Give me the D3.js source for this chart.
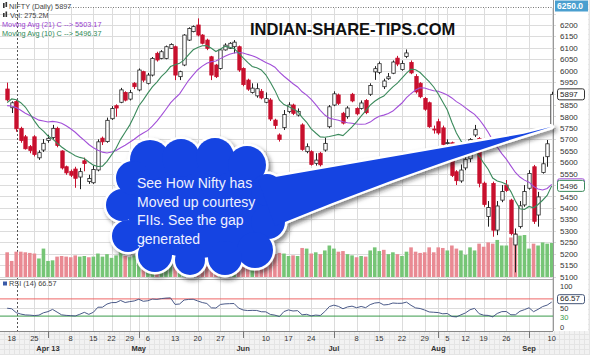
<!DOCTYPE html>
<html><head><meta charset="utf-8">
<script src="https://cdn.jsdelivr.net/npm/d3@7"></script>
<style>
html,body{margin:0;padding:0;background:#f1f1f1;}
svg{display:block;font-family:"Liberation Sans",Arial,sans-serif;}
</style></head><body>
<svg id="chart" width="590" height="355"></svg>
<script>
// ---------------- DATA ----------------
const dates = [
"2013-03-15","2013-03-18","2013-03-19","2013-03-20","2013-03-21","2013-03-22","2013-03-25","2013-03-26","2013-03-28",
"2013-04-01","2013-04-02","2013-04-03","2013-04-04","2013-04-05","2013-04-08","2013-04-09","2013-04-10","2013-04-11","2013-04-12","2013-04-15","2013-04-16","2013-04-17","2013-04-18","2013-04-22","2013-04-23","2013-04-25","2013-04-26","2013-04-29","2013-04-30",
"2013-05-02","2013-05-03","2013-05-06","2013-05-07","2013-05-08","2013-05-09","2013-05-10","2013-05-11","2013-05-13","2013-05-14","2013-05-15","2013-05-16","2013-05-17","2013-05-20","2013-05-21","2013-05-22","2013-05-23","2013-05-24","2013-05-27","2013-05-28","2013-05-29","2013-05-30","2013-05-31",
"2013-06-03","2013-06-04","2013-06-05","2013-06-06","2013-06-07","2013-06-10","2013-06-11","2013-06-12","2013-06-13","2013-06-14","2013-06-17","2013-06-18","2013-06-19","2013-06-20","2013-06-21","2013-06-24","2013-06-25","2013-06-26","2013-06-27","2013-06-28",
"2013-07-01","2013-07-02","2013-07-03","2013-07-04","2013-07-05","2013-07-08","2013-07-09","2013-07-10","2013-07-11","2013-07-12","2013-07-15","2013-07-16","2013-07-17","2013-07-18","2013-07-19","2013-07-22","2013-07-23","2013-07-24","2013-07-25","2013-07-26","2013-07-29","2013-07-30","2013-07-31",
"2013-08-01","2013-08-02","2013-08-05","2013-08-06","2013-08-07","2013-08-08","2013-08-12","2013-08-13","2013-08-14","2013-08-16","2013-08-19","2013-08-20","2013-08-21","2013-08-22","2013-08-23","2013-08-26","2013-08-27","2013-08-28","2013-08-29","2013-08-30",
"2013-09-02","2013-09-03","2013-09-04","2013-09-05","2013-09-06","2013-09-10"];

const open = [
5920,5838,5865,5748,5711,5668,5711,5619,5653,
5695,5708,5748,5649,5580,5560,5570,5535,5606,5515,5510,5566,5705,5690,5790,5847,5862,5905,5876,5945,
5916,5996,5945,5981,6076,6054,6054,6098,6105,5974,6025,6134,6171,6200,6156,6134,6061,6025,6010,6091,6098,6105,6105,
6010,5959,5905,5890,5910,5862,5872,5784,5719,5751,5821,5850,5806,5763,5646,5646,5595,5639,5653,5755,
5850,5894,5814,5799,5897,5835,5835,5870,5897,5995,5993,5930,5965,5989,6055,6005,6062,6036,5975,5945,5879,5860,5745,
5777,5750,5683,5685,5558,5518,5575,5615,5719,5704,5508,5362,5507,5303,5434,5500,5434,5238,5318,5413,
5486,5580,5369,5555,5624,5755];

const high = [
5948,5866,5872,5755,5719,5675,5718,5652,5701,
5720,5763,5755,5652,5585,5568,5580,5575,5620,5545,5585,5700,5712,5795,5845,5853,5925,5910,5916,5950,
6010,6000,5990,6060,6083,6090,6110,6120,6110,6000,6160,6190,6198,6229,6160,6140,6065,6030,6095,6120,6125,6134,6110,
6015,5965,5945,5945,5920,5905,5880,5790,5726,5828,5862,5856,5835,5770,5682,5652,5639,5645,5707,5850,
5910,5900,5820,5845,5903,5840,5870,5876,5945,6020,6040,5965,5990,6045,6065,6045,6093,6045,5985,5950,5885,5865,5760,
5790,5760,5700,5690,5565,5590,5625,5705,5763,5710,5515,5430,5515,5430,5500,5522,5440,5310,5430,5500,
5565,5588,5470,5624,5697,5908];

const low = [
5866,5815,5733,5685,5655,5639,5625,5610,5645,
5685,5700,5665,5568,5545,5535,5488,5482,5560,5505,5505,5560,5675,5685,5785,5799,5858,5866,5870,5920,
5910,5950,5940,5975,6040,6050,6050,6095,5959,5959,6020,6130,6168,6150,6115,6090,5959,5968,6005,6088,6095,6076,5995,
5932,5912,5900,5882,5875,5858,5780,5745,5690,5741,5814,5806,5800,5650,5639,5585,5585,5580,5646,5748,
5845,5850,5765,5790,5862,5805,5830,5810,5890,5960,5985,5920,5960,5985,6020,6000,6055,5985,5900,5880,5825,5750,5725,
5720,5670,5670,5535,5500,5510,5565,5600,5710,5490,5405,5318,5274,5281,5425,5470,5280,5118,5310,5405,
5480,5330,5318,5550,5580,5750];

const close = [
5872.6,5859.7,5745.95,5694.4,5658.75,5651.35,5633.85,5641.6,5682.55,
5704.4,5748.1,5672.9,5574.75,5553.25,5542.95,5529.55,5558.7,5594,5528.55,5568.4,5688.95,5689.1,5783.1,5834.4,5836.9,5916.25,5871.45,5904.1,5930.2,
6003,5959,5981,6054,6047,6083,6105,6115,5981,5996,6156,6185,6193,6156,6120,6098,5981,5974,6091,6112,6120,6125,6003,
5939.3,5919.45,5923.85,5921.4,5881,5878,5788.8,5760.2,5699.1,5808.4,5850.05,5813.6,5822.25,5655.9,5667.65,5590.25,5609.1,5588.7,5682.35,5842.2,
5898.85,5857.55,5770.9,5836.95,5867.9,5811.55,5859,5816.7,5935.1,6009,6030.8,5955.25,5973.3,6038.05,6029.2,6031.8,6077.8,5990.5,5907.5,5886.2,5831.65,5755.05,5742,
5727.85,5677.9,5685.4,5542.25,5519.1,5565.65,5612.4,5699.3,5742.3,5507.85,5414.75,5401.45,5302.55,5408.45,5471.8,5476.5,5287.45,5285,5409.05,5471.75,
5550.75,5341.45,5448.1,5592.95,5680.4,5896.75];

// volume, millions
const volume = [
200,130,205,205,200,195,190,150,230,
130,135,165,170,165,160,175,165,170,160,165,190,165,185,155,175,215,170,160,175,
200,195,150,190,180,175,200,120,220,200,230,190,185,210,185,175,235,170,185,175,170,190,260,
190,170,180,165,175,150,195,185,195,190,170,175,170,235,230,190,200,185,215,255,
230,205,210,185,175,160,170,165,215,240,210,220,185,200,185,170,205,240,205,195,200,240,200,
240,235,215,255,230,215,180,240,215,270,245,280,270,300,255,255,320,355,335,340,
230,270,255,280,270,275.2];

// estimated closes before the visible window (needed so the MA / RSI lines start where they do)
const warmupCloses = [5998.9,5987.25,5956.9,5959.2,5938.8,5903.5,5897.85,5887.4,5932.95,5896.8,5887.4,5898.2,5939.7,5932.95,5852.25,5850.3,5855.75,5761.35,5796.9,5693.05,5719.7,5698.5,5784.25,5818.6,5851.2,5945.7,5942.35,5914.1,5863.3,5913.85];

const priceTicks = [5100,5150,5200,5250,5300,5350,5400,5450,5500,5550,5600,5650,5700,5750,5800,5850,5900,5950,6000,6050,6100,6150,6200,6250];
const hiddenPriceLabels = [5500,5900,6250];   // covered by value boxes in the original
const rsiTicks = [0,30,50,100];
const dayTicks = ["2013-03-18","2013-03-25","2013-04-08","2013-04-15","2013-04-22","2013-04-29","2013-05-06","2013-05-13","2013-05-20","2013-05-27","2013-06-10","2013-06-17","2013-06-24","2013-07-08","2013-07-15","2013-07-22","2013-07-29","2013-08-05","2013-08-12","2013-08-19","2013-08-26","2013-09-10"];
const dayTickLabels = ["18","25","8","15","22","29","6","13","20","27","10","17","24","8","15","22","29","5","12","19","26","10"];
const monthTicks = ["2013-04-01","2013-05-02","2013-06-03","2013-07-01","2013-08-01","2013-09-02"];
const monthTickLabels = ["Apr 13","May","Jun","Jul","Aug","Sep"];
const markerDate = "2013-03-19";

const legendLines = ["NIFTY (Daily) 5897","Vol: 275.2M","Moving Avg (21) C --> 5503.17","Moving Avg (10) C --> 5496.37"];
const rsiLegend = "RSI (14) 66.57";
const rsiLast = 66.57;
const calloutLines = ["See How Nifty has","Moved up courtesy","FIIs. See the gap","generated"];
const titleText = "INDIAN-SHARE-TIPS.COM";

// ---------------- DERIVED ----------------
const W0 = warmupCloses.length;
const allC = warmupCloses.concat(close);
function sma(n){ return close.map((c,k)=>d3.mean(allC.slice(k+W0-n+1,k+W0+1))); }
const ma21 = sma(21), ma10 = sma(10);
const rsiAll = []; let ag=0, al=0;
for(let i=1;i<allC.length;i++){
  const ch = allC[i]-allC[i-1], g=Math.max(ch,0), l=Math.max(-ch,0);
  if(i<=14){ ag+=g/14; al+=l/14; }
  else { ag=(ag*13+g)/14; al=(al*13+l)/14; }
  if(i>=14) rsiAll[i] = 100-100/(1+ag/al);
}
const rsi = close.map((c,k)=>rsiAll[k+W0]);
const data = dates.map((d,k)=>({d, o:open[k], h:high[k], l:low[k], c:close[k], v:volume[k],
  up: close[k] >= (k? close[k-1] : warmupCloses[W0-1]), ma21:ma21[k], ma10:ma10[k], rsi:rsi[k]}));

// ---------------- SCALES ----------------
const PR = 553;               // right edge of plot
const x = d3.scalePoint().domain(dates).range([7.16, 551.7]);
const yP = d3.scaleLinear().domain([5100, 6200]).range([276.5, 25]);
const yV = d3.scaleLinear().domain([0, 340]).range([277, 235]);
const yR = d3.scaleLinear().domain([0, 100]).range([329, 286]);

const svg = d3.select("#chart");
const defs = svg.append("defs");
const pat = defs.append("pattern").attr("id","bgpat").attr("width",5).attr("height",5).attr("patternUnits","userSpaceOnUse");
pat.append("rect").attr("width",5).attr("height",5).attr("fill","#f2f2f2");
pat.append("path").attr("d","M4.5 0V5M0 4.5H5").attr("stroke","#e4e4e4").attr("stroke-width",1);
const filt = defs.append("filter").attr("id","shadow").attr("x","-20%").attr("y","-20%").attr("width","150%").attr("height","150%");
filt.append("feDropShadow").attr("dx",2.5).attr("dy",3).attr("stdDeviation",2.2).attr("flood-color","#222").attr("flood-opacity",0.55);
defs.append("clipPath").attr("id","plotclip").append("rect").attr("x",0).attr("y",0).attr("width",PR).attr("height",279);
defs.append("clipPath").attr("id","above70").append("rect").attr("x",0).attr("y",yR(100)).attr("width",PR).attr("height",yR(70)-yR(100));
defs.append("clipPath").attr("id","below30").append("rect").attr("x",0).attr("y",yR(30)).attr("width",PR).attr("height",yR(0)-yR(30));

// background
svg.append("rect").attr("width",590).attr("height",355).attr("fill","url(#bgpat)");
svg.append("rect").attr("x",0).attr("y",0).attr("width",588).attr("height",331).attr("fill","#ffffff");

// grid
const grid = svg.append("g");
grid.selectAll(".hg").data(priceTicks).join("line")
  .attr("x1",0).attr("x2",PR+3).attr("y1",d=>Math.round(yP(d))+0.5).attr("y2",d=>Math.round(yP(d))+0.5)
  .attr("stroke","#dcdcdc");
grid.selectAll(".vg").data(dayTicks.slice(1).concat(monthTicks)).join("line")
  .attr("x1",d=>Math.round(x(d))+0.5).attr("x2",d=>Math.round(x(d))+0.5).attr("y1",8).attr("y2",331)
  .attr("stroke","#dcdcdc");
grid.selectAll(".rg").data([50]).join("line")
  .attr("x1",0).attr("x2",PR).attr("y1",d=>Math.round(yR(d))+0.5).attr("y2",d=>Math.round(yR(d))+0.5).attr("stroke","#dcdcdc");

// top dotted line & marker
svg.append("line").attr("x1",68).attr("x2",PR).attr("y1",7.5).attr("y2",7.5).attr("stroke","#777").attr("stroke-dasharray","1,1.5");
svg.append("line").attr("x1",Math.round(x(markerDate))+1.5).attr("x2",Math.round(x(markerDate))+1.5).attr("y1",2).attr("y2",331)
  .attr("stroke","#555").attr("stroke-dasharray","2,2");

// volume
const plot = svg.append("g").attr("clip-path","url(#plotclip)");
plot.selectAll(".vol").data(data).join("rect")
  .attr("x",d=>x(d.d)-1.8).attr("width",3.6)
  .attr("y",d=>yV(d.v)).attr("height",d=>yV(0)-yV(d.v))
  .attr("fill",d=>d.up?"#76c576":"#e98a93");

// candles
const cg = plot.append("g");
cg.selectAll(".wick").data(data).join("line")
  .attr("x1",d=>Math.round(x(d.d))+0.5).attr("x2",d=>Math.round(x(d.d))+0.5)
  .attr("y1",d=>yP(d.h)).attr("y2",d=>yP(d.l))
  .attr("stroke",d=>d.c>=d.o?"#222":"#c8102e").attr("stroke-width",1);
cg.selectAll(".body").data(data).join("rect")
  .attr("x",d=>Math.round(x(d.d))-1.2).attr("width",3.4)
  .attr("y",d=>yP(Math.max(d.o,d.c))).attr("height",d=>Math.max(1,Math.abs(yP(d.o)-yP(d.c))))
  .attr("fill",d=>d.c>=d.o?"#ffffff":"#c8102e")
  .attr("stroke",d=>d.c>=d.o?"#222":"#c8102e").attr("stroke-width",0.8);

// moving averages
const line = key => d3.line().x(d=>x(d.d)).y(d=>yP(d[key]));
plot.append("path").datum(data).attr("d",line("ma21")).attr("fill","none").attr("stroke","#a24fd8").attr("stroke-width",1.1);
plot.append("path").datum(data).attr("d",line("ma10")).attr("fill","none").attr("stroke","#3b8a5c").attr("stroke-width",1.1);

// title watermark
svg.append("text").attr("x",250).attr("y",35).attr("font-size",16.5).attr("font-weight","bold").attr("fill","#111").text(titleText);

// legend
const lg = svg.append("g").attr("font-size",7.3).attr("fill","#444");
lg.append("rect").attr("x",3).attr("y",3).attr("width",1.6).attr("height",5).attr("fill","#333");
lg.append("rect").attr("x",5.5).attr("y",2).attr("width",1.6).attr("height",5).attr("fill","#333");
lg.append("text").attr("x",9).attr("y",8.5).text(legendLines[0]);
lg.append("rect").attr("x",3).attr("y",13).attr("width",1.6).attr("height",4).attr("fill","#333");
lg.append("rect").attr("x",5.5).attr("y",11.5).attr("width",1.6).attr("height",5.5).attr("fill","#333");
lg.append("text").attr("x",10).attr("y",17.5).text(legendLines[1]);
lg.append("text").attr("x",2).attr("y",27).attr("fill","#9b3fd0").text(legendLines[2]);
lg.append("text").attr("x",2).attr("y",36).attr("fill","#2f8a57").text(legendLines[3]);

// RSI panel
svg.append("line").attr("x1",0).attr("x2",PR).attr("y1",279.5).attr("y2",279.5).attr("stroke","#aaa");
const rg = svg.append("g");
rg.append("path").datum(data).attr("clip-path","url(#above70)")
  .attr("d",d3.area().x(d=>x(d.d)).y0(yR(70)).y1(d=>yR(d.rsi))).attr("fill","#e84a4a");
rg.append("path").datum(data).attr("clip-path","url(#below30)")
  .attr("d",d3.area().x(d=>x(d.d)).y0(yR(30)).y1(d=>yR(d.rsi))).attr("fill","#2e8a3e");
rg.append("line").attr("x1",0).attr("x2",PR).attr("y1",yR(70)).attr("y2",yR(70)).attr("stroke","#e66").attr("stroke-width",1);
rg.append("line").attr("x1",0).attr("x2",PR).attr("y1",yR(30)).attr("y2",yR(30)).attr("stroke","#3a9a4a").attr("stroke-width",1);
rg.append("path").datum(data).attr("d",d3.line().x(d=>x(d.d)).y(d=>yR(d.rsi))).attr("fill","none").attr("stroke","#4a5a88").attr("stroke-width",1);
rg.append("rect").attr("x",3).attr("y",281.5).attr("width",4).attr("height",4).attr("fill","#3a5aa8");
rg.append("text").attr("x",9).attr("y",286).attr("font-size",7.3).attr("fill","#444").text(rsiLegend);

// axes frame
svg.append("line").attr("x1",PR+0.5).attr("x2",PR+0.5).attr("y1",0).attr("y2",331).attr("stroke","#999");
svg.append("line").attr("x1",0).attr("x2",PR).attr("y1",331.5).attr("y2",331.5).attr("stroke","#888");

// price axis
const pAxis = svg.append("g").attr("transform",`translate(${PR+4},0)`)
  .call(d3.axisRight(yP).tickValues(priceTicks.filter(t=>!hiddenPriceLabels.includes(t))).tickSize(0).tickPadding(3).tickFormat(d3.format("d")));
pAxis.select(".domain").remove();
pAxis.selectAll("text").attr("font-size",8).attr("fill","#333").attr("font-family","Liberation Sans, Arial");
const rAxis = svg.append("g").attr("transform",`translate(${PR+4},0)`)
  .call(d3.axisRight(yR).tickValues(rsiTicks).tickSize(0).tickPadding(3));
rAxis.select(".domain").remove();
rAxis.selectAll("text").attr("font-size",7.5).attr("fill",d=>d===30?"#3a9a4a":"#333").attr("font-family","Liberation Sans, Arial")
  .attr("dy",d=>d===50?"0.38em":(d===30?"0.5em":(d===0?"0.1em":"0.32em")));

// value boxes
function box(yv, txt, stroke, tcol, h){
  const g = svg.append("g");
  g.append("rect").attr("x",PR+4.5).attr("y",yv-h/2).attr("width",27).attr("height",h).attr("rx",2)
    .attr("fill","#fff").attr("stroke",stroke).attr("stroke-width",1);
  if(txt) g.append("text").attr("x",PR+7).attr("y",yv+h/2-2.6).attr("font-size",8).attr("fill",tcol).text(txt);
}
box(yP(ma21[ma21.length-1]), "", "#a24fd8", "#333", 11);
box(yP(ma10[ma10.length-1]), "5496", "#3b8a5c", "#333", 11);
box(yP(close[close.length-1]), "5897", "#333", "#222", 11);
box(yR(rsiLast)-1.2, "66.57", "#445577", "#222", 9);
// top range box
svg.append("rect").attr("x",PR+2).attr("y",0.5).attr("width",33).attr("height",11).attr("fill","#4a9fcf");
svg.append("text").attr("x",PR+4).attr("y",9.3).attr("font-size",8.5).attr("font-weight","bold").attr("fill","#fff").text("6250.0");

// x axis labels
const xl = svg.append("g").attr("font-size",7.5).attr("fill","#333").attr("text-anchor","middle");
xl.selectAll(".dl").data(dayTicks).join("text").attr("x",d=>x(d)).attr("y",340.5).text((d,i)=>dayTickLabels[i]);
xl.selectAll(".ml").data(monthTicks).join("text").attr("x",d=>x(d)).attr("y",351).attr("font-weight","bold").text((d,i)=>monthTickLabels[i]);
svg.selectAll(".mt").data(monthTicks).join("line").attr("x1",d=>Math.round(x(d))+0.5).attr("x2",d=>Math.round(x(d))+0.5)
  .attr("y1",331).attr("y2",338).attr("stroke","#777");

// ---------------- CALLOUT ----------------
const last = data[data.length-1];
const tip = [x(last.d), yP(last.o)];
const cloudCore = {cx:197, cy:208, rx:70, ry:50};
const cloudLobes = [[150,160,20],[181,158,19],[215,157,19],[247,165,19],[267,190,16],[268,222,17],[255,250,18],
  [225,258,17],[190,260,15],[155,255,17],[128,236,16],[122,205,16],[133,178,17]];
const wedgePath = `M258,180 L${tip[0]-28},${tip[1]+7} L${tip[0]},${tip[1]} Q405,172 275,226 Z`;
const co = svg.append("g");
const white = co.append("g").attr("filter","url(#shadow)");
white.append("ellipse").attr("cx",cloudCore.cx).attr("cy",cloudCore.cy).attr("rx",cloudCore.rx+2.5).attr("ry",cloudCore.ry+2.5).attr("fill","#fff");
white.selectAll("circle").data(cloudLobes).join("circle").attr("cx",d=>d[0]).attr("cy",d=>d[1]).attr("r",d=>d[2]+2.5).attr("fill","#fff");
white.append("path").attr("d",wedgePath).attr("fill","#fff").attr("stroke","#fff").attr("stroke-width",5).attr("stroke-linejoin","round");
const blue = co.append("g").attr("fill","#1544e2");
blue.append("ellipse").attr("cx",cloudCore.cx).attr("cy",cloudCore.cy).attr("rx",cloudCore.rx).attr("ry",cloudCore.ry);
blue.selectAll("circle").data(cloudLobes).join("circle").attr("cx",d=>d[0]).attr("cy",d=>d[1]).attr("r",d=>d[2]);
blue.append("path").attr("d",wedgePath);
co.append("g").attr("font-size",14).attr("fill","#eef0ff")
  .selectAll("text").data(calloutLines).join("text").attr("x",137).attr("y",(d,i)=>188+i*18.5).text(d=>d);
</script>
</body></html>
